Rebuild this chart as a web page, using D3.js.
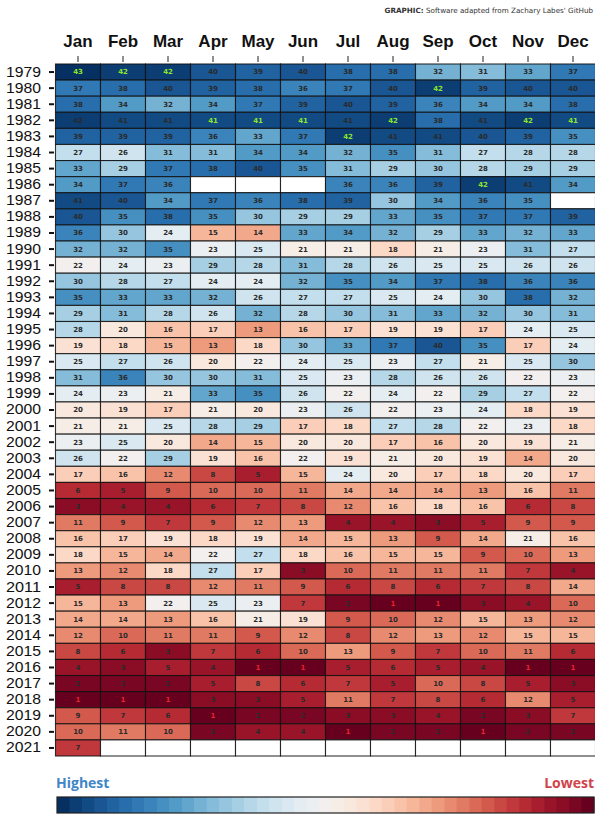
<!DOCTYPE html>
<html><head><meta charset="utf-8">
<script src="https://cdn.jsdelivr.net/npm/d3@7"></script>
<style>body{margin:0;background:#fff}svg{display:block}</style>
</head><body>
<svg id="c" width="595" height="815"></svg>
<script>
const months = ["Jan","Feb","Mar","Apr","May","Jun","Jul","Aug","Sep","Oct","Nov","Dec"];
const years = ["1979","1980","1981","1982","1983","1984","1985","1986","1987","1988","1989","1990","1991","1992","1993","1994","1995","1996","1997","1998","1999","2000","2001","2002","2003","2004","2005","2006","2007","2008","2009","2010","2011","2012","2013","2014","2015","2016","2017","2018","2019","2020","2021"];
// rank of each month (43 = highest, 1 = lowest); null = no data
const ranks = [
 [43,42,42,40,39,40,38,38,32,31,33,37],
 [37,38,40,39,38,36,37,40,42,39,40,40],
 [38,34,32,34,37,39,40,39,36,34,34,38],
 [42,41,41,41,41,41,41,42,38,41,42,41],
 [39,39,39,36,33,37,42,41,41,40,39,35],
 [27,26,31,31,34,34,32,35,31,27,28,28],
 [33,29,37,38,40,35,31,29,30,28,29,29],
 [34,37,36,null,null,null,36,36,39,42,41,34],
 [41,40,34,37,36,38,39,30,34,36,35,null],
 [40,35,38,35,30,29,29,33,35,37,37,39],
 [36,30,24,15,14,33,34,32,29,33,32,33],
 [32,32,35,23,25,21,21,18,21,23,31,27],
 [22,24,23,29,28,31,28,26,25,25,26,26],
 [30,28,27,24,24,32,35,34,37,38,36,36],
 [35,33,33,32,26,27,27,25,24,30,38,32],
 [29,31,28,26,32,28,30,31,33,32,30,31],
 [28,20,16,17,13,16,17,19,19,17,24,25],
 [19,18,15,13,18,30,33,37,40,35,17,24],
 [25,27,26,20,22,24,25,23,27,21,25,30],
 [31,36,30,30,31,25,23,28,26,26,22,23],
 [24,23,21,33,35,26,22,24,22,29,27,22],
 [20,19,17,21,20,23,26,22,23,24,18,19],
 [21,21,25,28,29,17,18,27,28,22,23,18],
 [23,25,20,14,15,20,20,17,16,20,19,21],
 [26,22,29,19,16,22,19,21,20,19,14,20],
 [17,16,12,8,5,15,24,20,17,18,20,17],
 [6,5,9,10,10,11,14,14,14,13,16,11],
 [3,4,4,6,7,8,12,16,18,16,6,8],
 [11,9,7,9,12,13,4,4,3,5,9,9],
 [16,17,19,18,19,14,15,13,9,14,21,16],
 [18,15,14,22,27,18,16,15,15,9,10,13],
 [13,12,18,27,17,3,10,11,11,11,7,4],
 [5,8,8,12,11,9,6,8,6,7,8,14],
 [15,13,22,25,23,7,2,1,1,3,4,10],
 [14,14,13,16,21,19,9,10,12,15,13,12],
 [12,10,11,11,9,12,8,12,13,12,15,15],
 [8,6,3,7,6,10,13,9,7,10,11,6],
 [4,3,5,4,1,1,5,6,5,4,1,1],
 [2,2,2,5,8,6,7,5,10,8,5,3],
 [1,1,1,3,3,5,11,7,8,6,12,5],
 [9,7,6,1,2,2,3,3,4,2,3,7],
 [10,11,10,2,4,4,1,2,2,1,2,2],
 [7,null,null,null,null,null,null,null,null,null,null,null]
];
const legendLabels = ["Highest","Lowest"];
const creditBold = "GRAPHIC:";
const creditText = " Software adapted from Zachary Labes' GitHub";

const svg = d3.select("#c");
const x = d3.scaleBand().domain(months).range([55.5, 595.5]);
const y = d3.scaleBand().domain(years).range([64, 756]);
const color = d3.scaleSequential(d3.interpolateRdBu).domain([1, 43]);

// credit
const cr = svg.append("text").attr("x", 593).attr("y", 13).attr("text-anchor","end")
  .style("font-family","'DejaVu Sans', sans-serif").style("font-size","7.2px").attr("fill","#333");
cr.append("tspan").style("font-weight","bold").text(creditBold);
cr.append("tspan").text(creditText);

// column maxima (record highest)
const colMax = months.map((m,j) => d3.max(ranks, r => r[j]));

const cells = [];
ranks.forEach((row,i) => row.forEach((v,j) => cells.push({year: years[i], month: months[j], v, j})));

const g = svg.append("g");
g.selectAll("rect.cell").data(cells).join("rect").attr("class","cell")
  .attr("x", d => x(d.month)).attr("y", d => y(d.year))
  .attr("width", x.bandwidth()).attr("height", y.bandwidth())
  .attr("fill", d => d.v == null ? "#fff" : color(d.v))
  .attr("stroke", "#111").attr("stroke-width", 1.1).attr("stroke-opacity", 0.85);

g.selectAll("text.val").data(cells.filter(d => d.v != null)).join("text").attr("class","val")
  .attr("x", d => x(d.month) + x.bandwidth()/2).attr("y", d => y(d.year) + y.bandwidth()/2)
  .attr("dy","0.35em").attr("text-anchor","middle")
  .style("font-family","'DejaVu Sans', sans-serif").style("font-size","7px").style("font-weight","bold")
  .attr("fill", d => d.v === colMax[d.j] ? "#8ee62a" : (d.v === 1 ? "#e8202a" : "#2a2a2a"))
  .text(d => d.v);

// axes
const xa = svg.append("g").attr("transform","translate(0,62)")
  .call(d3.axisTop(x).tickSize(6).tickPadding(9));
xa.select(".domain").remove();
xa.selectAll("text").style("font-family","'Liberation Sans', Arial, sans-serif")
  .style("font-size","17px").style("font-weight","bold").attr("fill","#111");
xa.selectAll("line").attr("stroke","#222");

const ya = svg.append("g").attr("transform","translate(54,0)")
  .call(d3.axisLeft(y).tickSize(5).tickPadding(8));
ya.select(".domain").remove();
ya.selectAll("text").style("font-family","'Liberation Sans', Arial, sans-serif")
  .style("font-size","14px").attr("fill","#111").attr("textLength", 35).attr("lengthAdjust","spacingAndGlyphs");
ya.selectAll("line").attr("stroke","#111").attr("stroke-width", 2);

// legend
svg.append("text").attr("x", 56).attr("y", 788).text(legendLabels[0])
  .style("font-family","'Open Sans', 'DejaVu Sans', sans-serif").style("font-weight","bold")
  .style("font-size","14px").attr("fill","#3f86c8");
svg.append("text").attr("x", 594).attr("y", 788).attr("text-anchor","end").text(legendLabels[1])
  .style("font-family","'Open Sans', 'DejaVu Sans', sans-serif").style("font-weight","bold")
  .style("font-size","14px").attr("fill","#d2424c");

const levels = d3.range(43, 0, -1);
const lx = d3.scaleBand().domain(levels).range([57, 594]);
svg.append("g").selectAll("rect").data(levels).join("rect")
  .attr("x", d => lx(d)).attr("y", 797).attr("width", lx.bandwidth() + 0.5).attr("height", 16)
  .attr("fill", d => color(d));
svg.append("rect").attr("x", 57).attr("y", 797).attr("width", 537).attr("height", 16)
  .attr("fill","none").attr("stroke","#222").attr("stroke-width", 1.2);
</script>
</body></html>
